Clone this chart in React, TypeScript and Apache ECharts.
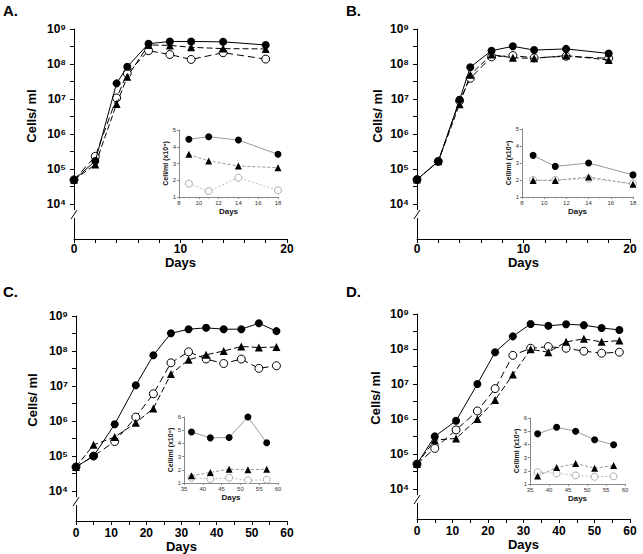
import React, { useEffect, useRef } from 'react';
import * as echarts from 'echarts';

// ---------------- Data ----------------
const daysAB = [0, 2, 4, 5, 7, 9, 11, 14, 18];
const daysCD = [0, 5, 11, 17, 22, 27, 32, 37, 42, 47, 52, 57];

const aFilled = [4.9e4, 1.7e5, 2.8e7, 8.3e7, 3.8e8, 4.4e8, 4.4e8, 4.3e8, 3.5e8];
const aTri = [4.9e4, 1.35e5, 7.2e6, 4.3e7, 3.5e8, 3.4e8, 3.0e8, 2.75e8, 2.7e8];
const aOpen = [4.9e4, 2.3e5, 1.07e7, 5.4e7, 2.4e8, 1.86e8, 1.35e8, 2.1e8, 1.38e8];

const bFilled = [5.0e4, 1.66e5, 9.5e6, 8.1e7, 2.4e8, 3.2e8, 2.5e8, 2.7e8, 2.0e8];
const bTri = [5.0e4, 1.66e5, 7.1e6, 4.9e7, 1.86e8, 1.5e8, 1.45e8, 1.74e8, 1.3e8];
const bOpen = [5.0e4, 1.66e5, 8.9e6, 3.9e7, 1.6e8, 1.74e8, 1.5e8, 1.66e8, 1.45e8];

const cFilled = [4.9e4, 1.0e5, 8.1e5, 1.05e7, 7.6e7, 3.2e8, 4.2e8, 4.6e8, 4.2e8, 4.2e8, 6.2e8, 3.7e8];
const cTri = [4.9e4, 2.1e5, 3.5e5, 8.9e5, 2.3e6, 2.2e7, 5.6e7, 7.8e7, 1.0e8, 1.35e8, 1.26e8, 1.3e8];
const cOpen = [4.9e4, 1.0e5, 2.6e5, 1.3e6, 6.0e6, 4.6e7, 9.5e7, 5.9e7, 4.4e7, 5.9e7, 3.2e7, 3.8e7];

const dFilled = [5.2e4, 3.2e5, 8.9e5, 1.0e7, 8.1e7, 2.3e8, 5.2e8, 4.6e8, 5.1e8, 4.8e8, 4.0e8, 3.5e8];
const dTri = [5.2e4, 2.5e5, 2.8e5, 1.0e6, 3.5e6, 1.86e7, 9.8e7, 8.1e7, 1.6e8, 1.95e8, 1.6e8, 1.74e8];
const dOpen = [5.2e4, 1.45e5, 4.9e5, 1.7e6, 7.4e6, 6.6e7, 1.05e8, 1.17e8, 1.05e8, 8.7e7, 7.6e7, 8.1e7];

const insetDaysAB = [9, 11, 14, 18];
const insetDaysCD = [37, 42, 47, 52, 57];

const insetAFilled = [4.45, 4.6, 4.4, 3.55];
const insetATri = [3.55, 3.15, 2.85, 2.75];
const insetAOpen = [1.8, 1.35, 2.15, 1.4];

const insetBFilled = [3.45, 2.8, 3.0, 2.3];
const insetBTri = [1.97, 1.97, 2.18, 1.75];
const insetBOpen = [2.0, 2.0, 2.08, 1.8];

const insetCFilled = [4.87, 4.42, 4.45, 6.0, 4.05];
const insetCTri = [1.55, 1.8, 2.05, 2.0, 2.05];
const insetCOpen = [1.4, 1.3, 1.4, 1.2, 1.25];

const insetDFilled = [4.8, 5.3, 5.0, 4.35, 3.97];
const insetDTri = [1.6, 2.25, 2.55, 2.2, 2.4];
const insetDOpen = [1.9, 1.8, 1.65, 1.55, 1.58];

const mainYTicks = [1e4, 3.162e4, 1e5, 3.162e5, 1e6, 3.162e6, 1e7, 3.162e7, 1e8, 3.162e8, 1e9];
const mainYLabels = [1e4, 1e5, 1e6, 1e7, 1e8, 1e9];
const panelLetters = ['A.', 'B.', 'C.', 'D.'];
const mainYName = 'Cells/ ml';
const xName = 'Days';
const insetYName = 'Cell/ml (x10⁸)';

// ---------------- Layout ----------------
const FONT = 'Arial, "Liberation Sans", Helvetica, sans-serif';
const MAIN = [
  { left: 74, top: 29, width: 213, height: 210, xMax: 20, xInt: 2, yMin: 1000, lblMargin: 4, nameGap: 14 },
  { left: 417, top: 29, width: 213, height: 210, xMax: 20, xInt: 2, yMin: 1000, lblMargin: 4, nameGap: 14 },
  { left: 76, top: 316, width: 211, height: 205, xMax: 60, xInt: 5, yMin: 1400, lblMargin: 6, nameGap: 16 },
  { left: 417, top: 314, width: 213, height: 205, xMax: 60, xInt: 5, yMin: 1400, lblMargin: 6, nameGap: 16 },
];
const INSET = [
  { left: 179, top: 130, width: 99, height: 67, xMin: 8, xMax: 18, xInt: 2, yMax: 5 },
  { left: 522, top: 129, width: 111, height: 68, xMin: 8, xMax: 18, xInt: 2, yMax: 5 },
  { left: 184, top: 417, width: 94, height: 66, xMin: 35, xMax: 60, xInt: 5, yMax: 6 },
  { left: 530, top: 418, width: 95, height: 66, xMin: 35, xMax: 60, xInt: 5, yMax: 6 },
];
const TITLE_POS = [[3, 3], [346, 3], [3, 284], [346, 284]];
const YNAME_POS = [[31, 116], [377, 116], [32, 400], [375, 398]];

const SUP: Record<string, string> = { '0': '⁰', '1': '¹', '2': '²', '3': '³', '4': '⁴', '5': '⁵', '6': '⁶', '7': '⁷', '8': '⁸', '9': '⁹' };
const fmtPow = (v: number) => {
  const e = String(Math.round(Math.log10(v)));
  return '10' + e.split('').map((c) => SUP[c] || c).join('');
};

const zip = (xs: number[], ys: number[]) => xs.map((x, i) => [x, ys[i]]);

const mainData = [
  { days: daysAB, filled: aFilled, tri: aTri, open: aOpen },
  { days: daysAB, filled: bFilled, tri: bTri, open: bOpen },
  { days: daysCD, filled: cFilled, tri: cTri, open: cOpen },
  { days: daysCD, filled: dFilled, tri: dTri, open: dOpen },
];
const insetData = [
  { days: insetDaysAB, filled: insetAFilled, tri: insetATri, open: insetAOpen },
  { days: insetDaysAB, filled: insetBFilled, tri: insetBTri, open: insetBOpen },
  { days: insetDaysCD, filled: insetCFilled, tri: insetCTri, open: insetCOpen },
  { days: insetDaysCD, filled: insetDFilled, tri: insetDTri, open: insetDOpen },
];

function buildOption() {
  const grid: any[] = [];
  const xAxis: any[] = [];
  const yAxis: any[] = [];
  const series: any[] = [];
  const graphic: any[] = [];

  MAIN.forEach((m, i) => {
    grid.push({ left: m.left, top: m.top, width: m.width, height: m.height, containLabel: false, outerBoundsMode: 'none' });
    xAxis.push({
      type: 'value', gridIndex: i, min: 0, max: m.xMax, interval: m.xInt,
      axisLine: { show: true, onZero: false, lineStyle: { color: '#000', width: 1 } },
      axisTick: { show: true, length: 4, lineStyle: { color: '#000' } },
      axisLabel: {
        formatter: (v: number) => (v % 10 === 0 ? String(v) : ''),
        fontFamily: FONT, fontWeight: 'bold', fontSize: 12, color: '#000', margin: m.lblMargin,
      },
      splitLine: { show: false },
      name: xName, nameLocation: 'middle', nameGap: m.nameGap,
      nameTextStyle: { fontFamily: FONT, fontWeight: 'bold', fontSize: 13, color: '#000' },
    });
    yAxis.push({
      type: 'log', logBase: 10, gridIndex: i, min: m.yMin, max: 1e9,
      axisLine: { show: true, lineStyle: { color: '#000', width: 1 } },
      axisTick: { show: true, customValues: mainYTicks, length: 4, lineStyle: { color: '#000' } },
      axisLabel: {
        customValues: mainYLabels, formatter: fmtPow,
        fontFamily: FONT, fontWeight: 'bold', fontSize: 12, color: '#000', margin: 8,
      },
      splitLine: { show: false },
      minorTick: { show: false },
    });
    const d = mainData[i];
    series.push(
      {
        type: 'line', xAxisIndex: i, yAxisIndex: i, data: zip(d.days, d.open),
        symbol: 'circle', symbolSize: 8, z: 3,
        itemStyle: { color: '#fff', borderColor: '#000', borderWidth: 1 },
        lineStyle: { color: '#000', width: 1, type: [7, 4] },
      },
      {
        type: 'line', xAxisIndex: i, yAxisIndex: i, data: zip(d.days, d.tri),
        symbol: 'triangle', symbolSize: 8, z: 4,
        itemStyle: { color: '#000' },
        lineStyle: { color: '#000', width: 1, type: [6, 3] },
      },
      {
        type: 'line', xAxisIndex: i, yAxisIndex: i, data: zip(d.days, d.filled),
        symbol: 'circle', symbolSize: 8, z: 5,
        itemStyle: { color: '#000' },
        lineStyle: { color: '#000', width: 1 },
      }
    );
    // axis break
    const y4 = m.top + (m.height * (9 - 4)) / (9 - Math.log10(m.yMin));
    graphic.push(
      { type: 'rect', z: 100, shape: { x: m.left - 3, y: y4 + 6, width: 6, height: 8 }, style: { fill: '#fff' } },
      { type: 'line', z: 101, shape: { x1: m.left - 3, y1: y4 + 15, x2: m.left + 3, y2: y4 + 6 }, style: { stroke: '#000', lineWidth: 1 } }
    );
    graphic.push({
      type: 'text', z: 100, x: TITLE_POS[i][0], y: TITLE_POS[i][1],
      style: { text: panelLetters[i], font: `bold 15px ${FONT}`, fill: '#000' },
    });
    graphic.push({
      type: 'text', z: 100, x: YNAME_POS[i][0], y: YNAME_POS[i][1], rotation: Math.PI / 2,
      style: { text: mainYName, font: `bold 13px ${FONT}`, fill: '#000', textAlign: 'center', textVerticalAlign: 'middle' },
    });
  });

  INSET.forEach((n, i) => {
    const gi = 4 + i;
    grid.push({ left: n.left, top: n.top, width: n.width, height: n.height, containLabel: false, outerBoundsMode: 'none' });
    xAxis.push({
      type: 'value', gridIndex: gi, min: n.xMin, max: n.xMax, interval: n.xInt,
      axisLine: { show: true, onZero: false, lineStyle: { color: '#888', width: 1 } },
      axisTick: { show: true, length: 2, lineStyle: { color: '#888' } },
      minorTick: { show: n.xInt === 2, splitNumber: 2, length: 1.5, lineStyle: { color: '#888' } },
      axisLabel: { fontFamily: FONT, fontSize: 6, color: '#333', margin: 3 },
      splitLine: { show: false },
      name: xName, nameLocation: 'middle', nameGap: 10,
      nameTextStyle: { fontFamily: FONT, fontWeight: 'bold', fontSize: 8, color: '#111' },
    });
    yAxis.push({
      type: 'value', gridIndex: gi, min: 1, max: n.yMax, interval: 1,
      axisLine: { show: true, lineStyle: { color: '#888', width: 1 } },
      axisTick: { show: true, length: 2, lineStyle: { color: '#888' } },
      axisLabel: { fontFamily: FONT, fontSize: 6, color: '#333', margin: 3 },
      splitLine: { show: false },
      name: insetYName, nameLocation: 'middle', nameRotate: 90, nameGap: 10,
      nameTextStyle: { fontFamily: FONT, fontWeight: 'bold', fontSize: 7, color: '#111' },
    });
    const d = insetData[i];
    series.push(
      {
        type: 'line', xAxisIndex: gi, yAxisIndex: gi, data: zip(d.days, d.open),
        symbol: 'circle', symbolSize: 7, z: 3,
        itemStyle: { color: '#fff', borderColor: '#aaa', borderWidth: 1 },
        lineStyle: { color: '#bbb', width: 1, type: [2, 2] },
      },
      {
        type: 'line', xAxisIndex: gi, yAxisIndex: gi, data: zip(d.days, d.tri),
        symbol: 'triangle', symbolSize: 7, z: 4,
        itemStyle: { color: '#000' },
        lineStyle: { color: '#999', width: 1, type: [3, 2] },
      },
      {
        type: 'line', xAxisIndex: gi, yAxisIndex: gi, data: zip(d.days, d.filled),
        symbol: 'circle', symbolSize: 7, z: 5,
        itemStyle: { color: '#000' },
        lineStyle: { color: '#999', width: 1 },
      }
    );
  });

  return {
    animation: false,
    backgroundColor: '#fff',
    textStyle: { fontFamily: FONT },
    grid, xAxis, yAxis, series, graphic,
  };
}

export default function App() {
  const ref = useRef<HTMLDivElement>(null);
  useEffect(() => {
    document.body.style.margin = '0';
    if (!ref.current) return;
    const chart = echarts.init(ref.current, undefined, { renderer: 'svg' });
    chart.setOption(buildOption() as any);
    return () => chart.dispose();
  }, []);
  return <div ref={ref} style={{ width: 643, height: 554 }} />;
}
